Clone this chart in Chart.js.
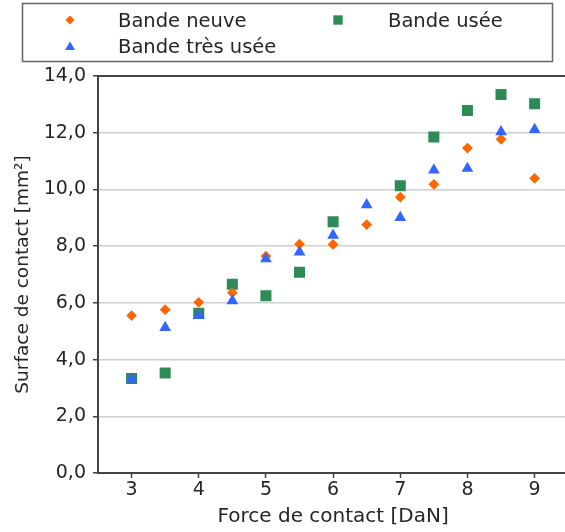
<!DOCTYPE html>
<html>
<head>
<meta charset="utf-8">
<script src="https://cdn.jsdelivr.net/npm/chart.js@4/dist/chart.umd.min.js"></script>
<style>
  html, body { margin: 0; padding: 0; background: #ffffff; overflow: hidden; }
  #wrap { width: 576px; height: 532px; position: relative; }
</style>
</head>
<body>
<div id="wrap"><canvas id="c" width="576" height="532"></canvas></div>
<script>
// ---- Data ----
const forces = [3, 3.5, 4, 4.5, 5, 5.5, 6, 6.5, 7, 7.5, 8, 8.5, 9];
const bandeNeuve = [5.55, 5.76, 6.02, 6.36, 7.65, 8.07, 8.06, 8.76, 9.73, 10.18, 11.46, 11.77, 10.39];
const forcesUsee = [3, 3.5, 4, 4.5, 5, 5.5, 6, 7, 7.5, 8, 8.5, 9];
const bandeUsee = [3.33, 3.53, 5.63, 6.66, 6.25, 7.08, 8.86, 10.13, 11.85, 12.78, 13.35, 13.02];
const bandeTresUsee = [3.31, 5.13, 5.55, 6.07, 7.55, 7.79, 8.38, 9.46, 9.01, 10.68, 10.74, 12.03, 12.11];
const xTickValues = [3, 4, 5, 6, 7, 8, 9];
const yTickValues = [0, 2, 4, 6, 8, 10, 12, 14];
const seriesNames = ['Bande neuve', 'Bande usée', 'Bande très usée'];
const xTitle = 'Force de contact [DaN]';
const yTitle = 'Surface de contact [mm²]';

const toPts = (xs, ys) => xs.map((x, i) => ({x: x, y: ys[i]}));
const FONT = "'DejaVu Sans', sans-serif";
const TXT = '#262626';

const datasets = [
  { label: seriesNames[0], data: toPts(forces, bandeNeuve), pointStyle: 'rectRot',
    backgroundColor: '#ff6600', borderColor: '#ff6600', pointRadius: 5.4, pointBorderWidth: 0, order: 2 },
  { label: seriesNames[1], data: toPts(forcesUsee, bandeUsee), pointStyle: 'rect',
    backgroundColor: '#2e8b57', borderColor: '#2e8b57', pointRadius: 7.8, pointBorderWidth: 0, order: 3 },
  { label: seriesNames[2], data: toPts(forces, bandeTresUsee), pointStyle: 'triangle',
    backgroundColor: '#3366ff', borderColor: '#3366ff', pointRadius: 6.8, pointBorderWidth: 0, order: 1 }
];

// legend box + top spine
const customPlugin = {
  id: 'custom',
  afterDraw(chart) {
    const ctx = chart.ctx;
    const a = chart.chartArea;
    ctx.save();
    ctx.strokeStyle = '#444444';
    ctx.lineWidth = 2;
    ctx.beginPath();
    ctx.moveTo(a.left - 1, a.top);
    ctx.lineTo(a.right, a.top);
    ctx.stroke();
    ctx.fillStyle = '#ffffff';
    ctx.fillRect(22, 3, 531, 59);
    ctx.strokeStyle = '#666666';
    ctx.lineWidth = 1.5;
    ctx.strokeRect(22.5, 3.5, 530, 58);
    const items = [
      {ds: 0, mx: 70, tx: 118, y: 27},
      {ds: 1, mx: 338, tx: 388, y: 27},
      {ds: 2, mx: 70, tx: 118, y: 53}
    ];
    ctx.font = "19.5px " + FONT;
    ctx.textBaseline = 'alphabetic';
    ctx.textAlign = 'left';
    items.forEach(it => {
      const d = chart.data.datasets[it.ds];
      ctx.fillStyle = d.backgroundColor;
      ctx.strokeStyle = d.borderColor;
      Chart.helpers.drawPoint(ctx, {pointStyle: d.pointStyle, radius: d.pointRadius * 0.85, rotation: 0, borderWidth: 0},
        it.mx, it.y - 7 + (d.pointStyle === 'triangle' ? 1.2 : 0));
      ctx.fillStyle = TXT;
      ctx.fillText(d.label, it.tx, it.y);
    });
    ctx.restore();
  }
};

new Chart(document.getElementById('c'), {
  type: 'scatter',
  data: { datasets: datasets },
  options: {
    responsive: false,
    animation: false,
    layout: { padding: { top: 76, left: 12, right: 0, bottom: 0 } },
    plugins: { legend: { display: false }, tooltip: { enabled: false } },
    scales: {
      x: {
        type: 'linear',
        min: 2.5, max: 9.5,
        afterBuildTicks: s => { s.ticks = xTickValues.map(v => ({value: v})); },
        afterFit: s => { s.height = 59; },
        grid: { drawOnChartArea: false, drawTicks: true, tickLength: 5, tickColor: '#444444', tickWidth: 1.5 },
        border: { display: true, color: '#444444', width: 2 },
        ticks: { color: TXT, font: { family: FONT, size: 19 }, padding: 1,
                 callback: v => String(v) },
        title: { display: true, text: xTitle, color: TXT, font: { family: FONT, size: 20 },
                 padding: { top: 0, bottom: 3 } }
      },
      y: {
        type: 'linear',
        min: 0, max: 14,
        afterBuildTicks: s => { s.ticks = yTickValues.map(v => ({value: v})); },
        afterFit: s => { s.width = 86; },
        grid: { color: '#d0d0d0', lineWidth: 1.5, drawTicks: true, tickLength: 5, tickColor: '#444444', tickWidth: 1.5 },
        border: { display: true, color: '#444444', width: 2 },
        ticks: { color: TXT, font: { family: FONT, size: 19 }, padding: 7,
                 callback: v => v.toFixed(1).replace('.', ',') },
        title: { display: true, text: yTitle, color: TXT, font: { family: FONT, size: 18.5 },
                 padding: { top: 0, bottom: 0 } }
      }
    }
  },
  plugins: [customPlugin]
});
</script>
</body>
</html>
